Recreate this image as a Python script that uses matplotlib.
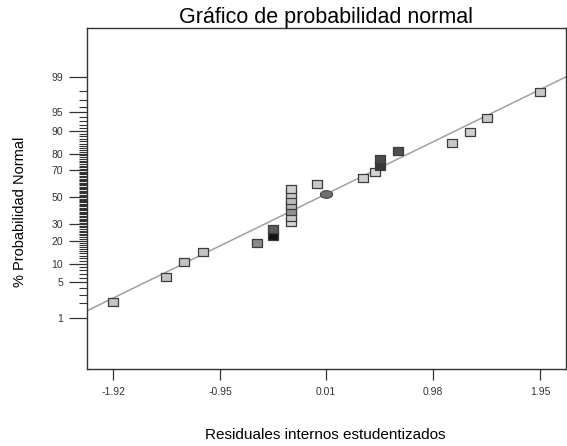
from statistics import NormalDist

import numpy as np
import matplotlib
matplotlib.use("Agg")
import matplotlib.pyplot as plt
from matplotlib.path import Path
from matplotlib.ticker import FixedLocator, FixedFormatter, NullFormatter

plt.rcParams['font.family'] = ['Liberation Sans', 'DejaVu Sans']

# studentized residuals (sorted) and their normal probability (%)
residuals = [-1.92, -1.44, -1.28, -1.11, -0.62, -0.47, -0.47,
             -0.31, -0.31, -0.31, -0.31, -0.31, -0.31, -0.31,
             -0.07, 0.34, 0.45, 0.50, 0.50, 0.66, 1.15, 1.31, 1.47, 1.95]
probability = [2.1, 6.2, 10.4, 14.6, 18.8, 22.9, 27.1,
               31.3, 35.4, 39.6, 43.8, 47.9, 52.1, 56.3,
               60.4, 64.6, 68.8, 72.9, 77.1, 81.3, 85.4, 89.6, 93.8, 97.9]
fill_colors = ['#c4c4c4', '#c4c4c4', '#c4c4c4', '#c4c4c4', '#8a8a8a', '#151515', '#5c5c5c',
               '#d4d4d4', '#c8c8c8', '#909090', '#b4b4b4', '#bcbcbc', '#c8c8c8', '#d0d0d0',
               '#c8c8c8', '#d0d0d0', '#d4d4d4', '#383838', '#4a4a4a', '#505050',
               '#c8c8c8', '#d0d0d0', '#c8c8c8', '#c8c8c8']

# centre marker and reference line (mean, sd)
center_x, center_p = 0.01, 52.5
line_mean, line_sd = -0.05, 0.96

x_ticks = [-1.92, -0.95, 0.01, 0.98, 1.95]
x_labels = ['-1.92', '-0.95', '0.01', '0.98', '1.95']
y_ticks = [1, 5, 10, 20, 30, 50, 70, 80, 90, 95, 99]

nd = NormalDist()


def to_z(p):
    p = np.clip(np.asarray(p, dtype=float) / 100.0, 1e-9, 1 - 1e-9)
    return np.vectorize(nd.inv_cdf)(p)


def from_z(z):
    return np.vectorize(nd.cdf)(np.asarray(z, dtype=float)) * 100.0


fig = plt.figure(figsize=(5.67, 4.46), dpi=100)
ax = fig.add_axes([0.153, 0.1726, 0.8447, 0.7646])
ax.set_yscale('function', functions=(to_z, from_z))

xlim = (-2.16, 2.18)
ax.set_xlim(*xlim)
ax.set_ylim(float(from_z(-3.32)), float(from_z(3.27)))

# fitted normal line
xs = np.linspace(xlim[0], xlim[1], 50)
ax.plot(xs, from_z((xs - line_mean) / line_sd), color='#a0a0a0', lw=1.1, zorder=2)

rect = Path([(-1, -0.68), (1, -0.68), (1, 0.68), (-1, 0.68), (-1, -0.68)],
            [Path.MOVETO, Path.LINETO, Path.LINETO, Path.LINETO, Path.CLOSEPOLY])
circ = Path.unit_circle()
oval = Path(circ.vertices * [1, 0.62], circ.codes)

for x, p, c in zip(residuals, probability, fill_colors):
    ax.plot(x, p, marker=rect, ms=7.6, mfc=c, mec='#3c3c3c', mew=0.9,
            ls='none', zorder=3)
ax.plot(center_x, center_p, marker=oval, ms=8.8, mfc='#707070', mec='#404040',
        mew=0.8, ls='none', zorder=4)

ax.set_xticks(x_ticks)
ax.set_xticklabels(x_labels)
ax.yaxis.set_major_locator(FixedLocator(y_ticks))
ax.yaxis.set_major_formatter(FixedFormatter([str(v) for v in y_ticks]))
ax.yaxis.set_minor_locator(FixedLocator([v for v in range(1, 100) if v not in y_ticks]))
ax.yaxis.set_minor_formatter(NullFormatter())

ax.tick_params(axis='x', length=8, width=0.9, colors='#333333', labelsize=7.5, pad=5)
ax.tick_params(axis='y', which='major', length=13, width=0.9, colors='#333333',
               labelsize=7.5, pad=4)
ax.tick_params(axis='y', which='minor', length=6, width=0.8, colors='#333333')
for s in ax.spines.values():
    s.set_color('#333333')
    s.set_linewidth(1.0)

ax.set_title('Gráfico de probabilidad normal', fontsize=15.5, pad=3)
ax.set_xlabel('Residuales internos estudentizados', fontsize=11)
ax.xaxis.set_label_coords(0.498, -0.172)
ax.set_ylabel('% Probabilidad Normal', fontsize=10.5)
ax.yaxis.set_label_coords(-0.125, 0.46)

fig.savefig('out.png', dpi=100)
